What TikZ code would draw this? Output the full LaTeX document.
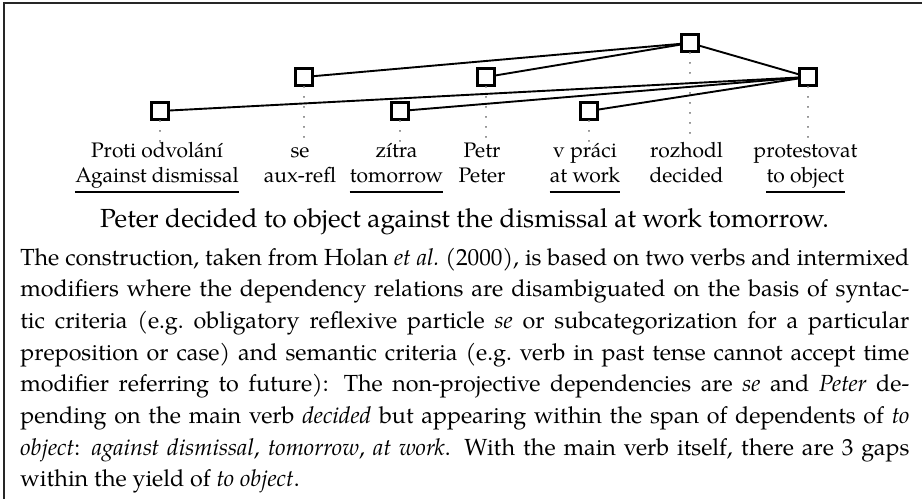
\documentclass[tikz,border=0pt]{standalone}
\usepackage{fontspec}
\setmainfont{TeX Gyre Pagella}
\tikzset{
  sq/.style={draw, line width=1.1pt, minimum size=8.5pt, inner sep=0pt, fill=white},
  dep/.style={line width=0.95pt},
  tick/.style={draw=gray, line width=0.6pt, dash pattern=on 0.3pt off 4.7pt, line cap=round},
  word/.style={inner sep=0pt, anchor=base, font=\fontsize{10.5}{12.6}\selectfont},
  uline/.style={line width=1pt},
  frameline/.style={line width=0.85pt, draw=black!85},
}
\begin{document}
\begin{tikzpicture}[x=0.5pt,y=-0.5pt]
\useasboundingbox (0,0) rectangle (922,499);

% frame (top and left edges)
\coordinate (tl) at (4,3);
\coordinate (tr) at (922,3);
\coordinate (bl) at (4,499);
\draw[frameline] (tr) -- (tl) -- (bl);

% tree nodes
\node[sq] (n1) at (160,111) {};
\node[sq] (n2) at (304,77) {};
\node[sq] (n3) at (400,111) {};
\node[sq] (n4) at (486,77) {};
\node[sq] (n5) at (589,111) {};
\node[sq] (n6) at (690,43) {};
\node[sq] (n7) at (808,77) {};

% projection lines down to the words
\foreach \i/\x in {1/160,2/304,3/400,4/486,5/589,6/690,7/808}{
  \coordinate (e\i) at (\x,142);
  \draw[tick] (n\i) -- (e\i);
}

% dependency edges
\draw[dep] (n6) -- (n2);
\draw[dep] (n6) -- (n4);
\draw[dep] (n6) -- (n7);
\draw[dep] (n7) -- (n1);
\draw[dep] (n7) -- (n3);
\draw[dep] (n7) -- (n5);

% Czech words
\node[word] (w1) at (157,157) {Proti odvolání};
\node[word] (w2) at (300,157) {se};
\node[word] (w3) at (396.5,157) {zítra};
\node[word] (w4) at (482,157) {Petr};
\node[word] (w5) at (585,157) {v práci};
\node[word] (w6) at (686.5,157) {rozhodl};
\node[word] (w7) at (805.5,157) {protestovat};

% English glosses
\node[word] (g1) at (157,182) {Against dismissal};
\node[word] (g2) at (300,182) {aux-refl};
\node[word] (g3) at (396.5,182) {tomorrow};
\node[word] (g4) at (482,182) {Peter};
\node[word] (g5) at (585,182) {at work};
\node[word] (g6) at (686.5,182) {decided};
\node[word] (g7) at (805.5,182) {to object};

% underlined dependents of "to object"
\foreach \g in {g1,g3,g5,g7}{
  \draw[uline] ([yshift=-5pt]\g.base west) -- ([yshift=-5pt]\g.base east);
}

% translation
\node[inner sep=0pt, anchor=base, font=\fontsize{13.1}{15}\selectfont] (sent) at (464.5,227)
  {Peter decided to object against the dismissal at work tomorrow.};

% explanation
\node[inner sep=0pt, anchor=base west, text width=444.5pt, align=justify,
      font=\fontsize{11.65}{15.85}\selectfont] (para) at (20,265)
  {The construction, taken from Holan \emph{et al.}\ (2000), is based on two verbs and intermixed\linebreak
   modifiers where the dependency relations are disambiguated on the basis of syntac-\linebreak
   tic criteria (e.g.\ obligatory reflexive particle \emph{se} or subcategorization for a particular\linebreak
   preposition or case) and semantic criteria (e.g.\ verb in past tense cannot accept time\linebreak
   modifier referring to future): The non-projective dependencies are \emph{se} and \emph{Peter} de-\linebreak
   pending on the main verb \emph{decided} but appearing within the span of dependents of \emph{to}\linebreak
   \emph{object}: \emph{against dismissal}, \emph{tomorrow}, \emph{at work}. With the main verb itself, there are 3 gaps\linebreak
   within the yield of \emph{to object}.};
\end{tikzpicture}
\end{document}
